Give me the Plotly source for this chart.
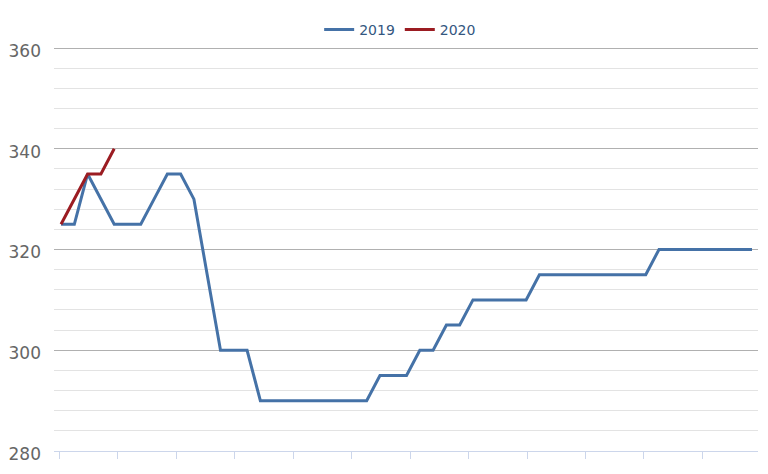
import plotly.graph_objects as go

# Weekly values (week index 0..52)
weeks_2019 = list(range(53))
values_2019 = [325, 325, 335, 330, 325, 325, 325, 330, 335, 335,
               330, 315, 300, 300, 300, 290, 290, 290, 290, 290,
               290, 290, 290, 290, 295, 295, 295, 300, 300, 305,
               305, 310, 310, 310, 310, 310, 315, 315, 315, 315,
               315, 315, 315, 315, 315, 320, 320, 320, 320, 320,
               320, 320, 320]
weeks_2020 = [0, 1, 2, 3, 4]
values_2020 = [325, 330, 335, 335, 340]

series_names = ["2019", "2020"]
series_colors = ["#4572a7", "#9b1c22"]

y_ticks = [280, 300, 320, 340, 360]

# 12 evenly spaced month ticks across the year
month_count = 12
tick_start = -0.13
tick_step = 4.4
x_ticks = [tick_start + tick_step * k for k in range(month_count)]

fig = go.Figure()
fig.add_trace(go.Scatter(x=weeks_2019, y=values_2019, mode="lines", name=series_names[0],
                         line=dict(color=series_colors[0], width=3)))
fig.add_trace(go.Scatter(x=weeks_2020, y=values_2020, mode="lines", name=series_names[1],
                         line=dict(color=series_colors[1], width=3)))

# page body has an 8px margin, so the figure is sized to fit the 768x474 window
fig.update_layout(
    width=760, height=466,
    margin=dict(l=46, r=10, t=38, b=23, autoexpand=False),
    paper_bgcolor="white", plot_bgcolor="white",
    font=dict(family="DejaVu Sans", color="#666666"),
    showlegend=True,
    legend=dict(orientation="h", xref="container", yref="container",
                x=0.516, xanchor="center", y=0.953, yanchor="middle",
                font=dict(size=14, color="#34577f"), itemwidth=30,
                bgcolor="rgba(0,0,0,0)"),
    xaxis=dict(range=[-0.53, 52.45], tickmode="array", tickvals=x_ticks,
               showticklabels=False, ticks="outside", ticklen=7, tickwidth=1,
               tickcolor="#ccd6eb", showline=True, linecolor="#ccd6eb", linewidth=1,
               showgrid=False, zeroline=False, fixedrange=True),
    yaxis=dict(range=[280, 360.4], tickmode="array", tickvals=y_ticks,
               showgrid=True, gridcolor="#b0b0b0", gridwidth=1,
               minor=dict(dtick=4, tick0=280, showgrid=True, gridcolor="#e3e3e3", gridwidth=1),
               zeroline=False, showline=False, ticks="",
               tickfont=dict(size=17, color="#666666", family="DejaVu Sans"),
               ticklabelstandoff=12, ticklabelshift=3, fixedrange=True),
)

fig.write_html("out.html")
